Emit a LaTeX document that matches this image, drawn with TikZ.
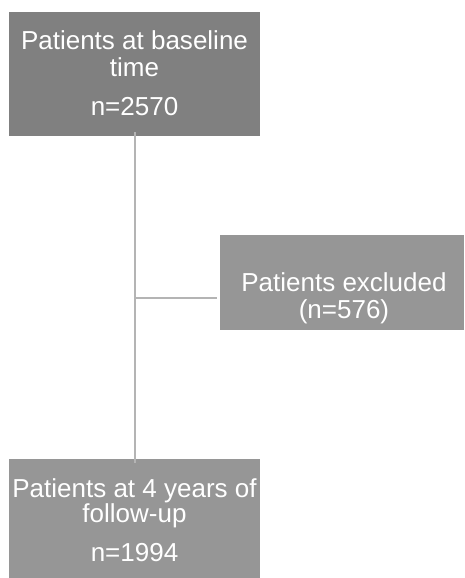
\documentclass[tikz,border=0pt]{standalone}
\usepackage{fontspec}
\setmainfont{Liberation Sans}
\definecolor{boxdark}{HTML}{808080}
\definecolor{boxlight}{HTML}{969696}
\definecolor{linegray}{HTML}{B4B4B4}
\begin{document}
\begin{tikzpicture}[x=1pt,y=-1pt,
  box/.style={fill=#1, draw=none, inner sep=0pt},
  txt/.style={text=white, font=\fontsize{26}{28}\selectfont, anchor=base, inner sep=0pt},
  conn/.style={draw=linegray, line width=2pt}]
\useasboundingbox (0,0) rectangle (464,578);
% boxes
\node[box=boxdark, minimum width=251pt, minimum height=124pt] (top) at (134.5,74) {};
\node[box=boxlight, minimum width=244pt, minimum height=95pt] (excl) at (342,282.5) {};
\node[box=boxlight, minimum width=251pt, minimum height=119pt] (bot) at (134.5,518.5) {};
% texts
\node[txt] (t1) at (134.5,49) {Patients at baseline};
\node[txt] (t2) at (134.5,77) {time};
\node[txt] (t3) at (134.5,115) {n=2570};
\node[txt] (e1) at (344,291) {Patients excluded};
\node[txt] (e2) at (344,318) {(n=576)};
\node[txt] (b1) at (134.5,497) {Patients at 4 years of};
\node[txt] (b2) at (134.5,522) {follow-up};
\node[txt] (b3) at (134.5,561) {n=1994};
% connectors
\coordinate (vtop) at ([yshift=4pt]top.south);
\coordinate (vbot) at ([yshift=-4pt]bot.north);
\coordinate (branch) at (134.5,298);
\coordinate (hend) at ([xshift=-3pt]excl.west |- branch);
\draw[conn] (vtop) -- (vbot);
\draw[conn] (branch) -- (hend);
\end{tikzpicture}
\end{document}
